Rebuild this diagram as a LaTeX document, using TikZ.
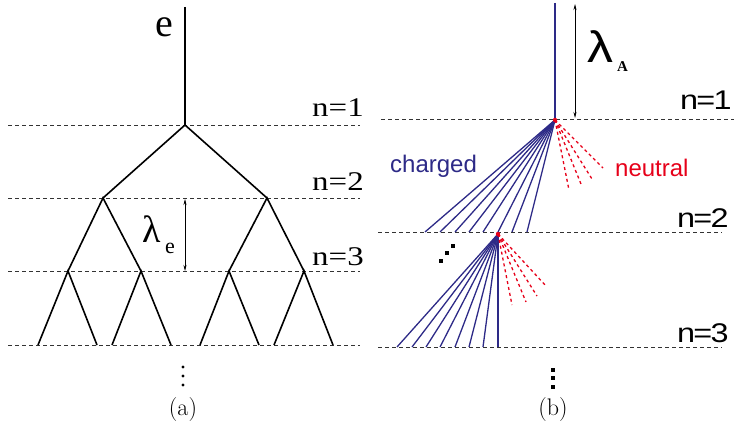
\documentclass[tikz,border=0pt]{standalone}
\usepackage{fontspec}
\usetikzlibrary{arrows.meta}
\newfontfamily\serifA{Liberation Serif}
\newfontfamily\sansB{Liberation Sans}
\definecolor{navy}{RGB}{45,42,135}
\definecolor{nred}{RGB}{230,0,25}
\tikzset{
  levelline/.style={dash pattern=on 4pt off 3pt, line width=0.8pt, black!80},
  branch/.style={line width=1.6pt, black},
  lenarrow/.style={line width=0.6pt, {Stealth[length=6pt,width=3pt]}-{Stealth[length=6pt,width=3pt]}},
  chg/.style={line width=1.3pt, navy},
  neu/.style={line width=1.3pt, nred, dash pattern=on 3pt off 3pt},
  lbl/.style={inner sep=0pt, anchor=base west},
  dotA/.style={fill=black, circle, inner sep=0pt, minimum size=3.2pt},
  dotB/.style={fill=black, rectangle, inner sep=0pt, minimum size=3.5pt}
}
\newcommand{\wideA}[1]{\scalebox{1.22}[1]{\fontsize{27}{27}\selectfont\serifA #1}}
\newcommand{\wideB}[1]{\scalebox{1.2}[1]{\fontsize{27}{27}\selectfont\sansB #1}}
\begin{document}
\begin{tikzpicture}[x=1pt,y=-1pt]
\useasboundingbox (0,0) rectangle (734,433);
% ---------------- panel (a) ----------------
\draw[levelline] (8,125) -- (360,125);
\draw[levelline] (8,198) -- (360,198);
\draw[levelline] (8,271) -- (360,271);
\draw[levelline] (8,345) -- (360,345);
\coordinate (top) at (185,7);
\coordinate (r) at (185,125);
\coordinate (l1) at (103,198);
\coordinate (r1) at (267,198);
\coordinate (l11) at (68,271);
\coordinate (l12) at (141,271);
\coordinate (r11) at (229,271);
\coordinate (r12) at (304,271);
\foreach \n/\x in {a/38,b/97,c/112,d/171,e/200,f/259,g/274,h/333}
  \coordinate (leaf\n) at (\x,345);
\draw[branch] (top) -- (r);
\draw[branch] (l1) -- (r) -- (r1);
\draw[branch] (l11) -- (l1) -- (l12);
\draw[branch] (r11) -- (r1) -- (r12);
\draw[branch] (leafa) -- (l11) -- (leafb);
\draw[branch] (leafc) -- (l12) -- (leafd);
\draw[branch] (leafe) -- (r11) -- (leaff);
\draw[branch] (leafg) -- (r12) -- (leafh);
\node[lbl] (elab) at (155,37) {\fontsize{40}{40}\selectfont\serifA e};
\node[lbl] (na1) at (312,117) {\wideA{n=1}};
\node[lbl] (na2) at (312,190) {\wideA{n=2}};
\node[lbl] (na3) at (312,265) {\wideA{n=3}};
\coordinate (lea) at (185,199);
\coordinate (leb) at (185,271);
\draw[lenarrow] (lea) -- (leb);
\node[lbl] (lame) at (142,242) {\fontsize{38}{38}\selectfont\serifA λ};
\node[lbl] (lamesub) at (165,253) {\fontsize{22}{22}\selectfont\serifA e};
\node[dotA] (da1) at (183,367) {};
\node[dotA] (da2) at (183,376) {};
\node[dotA] (da3) at (183,385) {};
\node (capa) at (183,410) {\fontsize{24}{24}\selectfont (a)};
% ---------------- panel (b) ----------------
\draw[levelline] (381,119) -- (734,119);
\draw[levelline] (378,232) -- (722,232);
\draw[levelline] (378,347) -- (722,347);
\coordinate (btop) at (555,3);
\coordinate (A1) at (555,120);
\coordinate (A2) at (498,234);
\draw[chg] (btop) -- (A1);
\foreach \i/\x in {1/425,2/440,3/455,4/469,5/483,6/498,7/512,8/527} {
  \coordinate (fa\i) at (\x,232);
  \draw[chg] (A1) -- (fa\i);
}
\foreach \i/\x in {1/397,2/412,3/426,4/440,5/455,6/469,7/483,8/498} {
  \coordinate (fb\i) at (\x,347);
  \draw[chg] (A2) -- (fb\i);
}
\foreach \i/\x/\y in {1/569/190,2/581/184,3/592/179,4/603/168} {
  \coordinate (na\i) at (\x,\y);
  \draw[neu] (A1) -- (na\i);
}
\foreach \i/\x/\y in {1/512/305,2/526/302,3/537/296,4/546/286} {
  \coordinate (nb\i) at (\x,\y);
  \draw[neu] (A2) -- (nb\i);
}
\fill[nred] (A1) circle (2.2pt);
\fill[nred] (A2) circle (2.2pt);
\coordinate (lAa) at (575,4);
\coordinate (lAb) at (575,118);
\draw[lenarrow] (lAa) -- (lAb);
\node[lbl] (lamA) at (587,63) {\scalebox{1.18}[1]{\fontsize{44}{44}\selectfont\sansB λ}};
\node[lbl] (lamAsub) at (617,72) {\fontsize{15}{15}\selectfont\serifA\bfseries A};
\node[lbl] (nb1) at (680,110) {\wideB{n\kern-1.5pt=\kern-1.5pt1}};
\node[lbl] (nb2) at (677,227) {\wideB{n\kern-1.5pt=\kern-1.5pt2}};
\node[lbl] (nb3) at (677,342) {\wideB{n\kern-1.5pt=\kern-1.5pt3}};
\node[lbl, text=navy] (chglab) at (390,173) {\fontsize{24}{24}\selectfont\sansB charged};
\node[lbl, text=nred] (neulab) at (615,176) {\fontsize{24}{24}\selectfont\sansB neutral};
\node[dotB] (dd1) at (441,261) {};
\node[dotB] (dd2) at (447,253) {};
\node[dotB] (dd3) at (453,246) {};
\node[dotB] (db1) at (553,370) {};
\node[dotB] (db2) at (553,378) {};
\node[dotB] (db3) at (553,387) {};
\node (capb) at (553,410) {\fontsize{24}{24}\selectfont (b)};
\end{tikzpicture}
\end{document}
